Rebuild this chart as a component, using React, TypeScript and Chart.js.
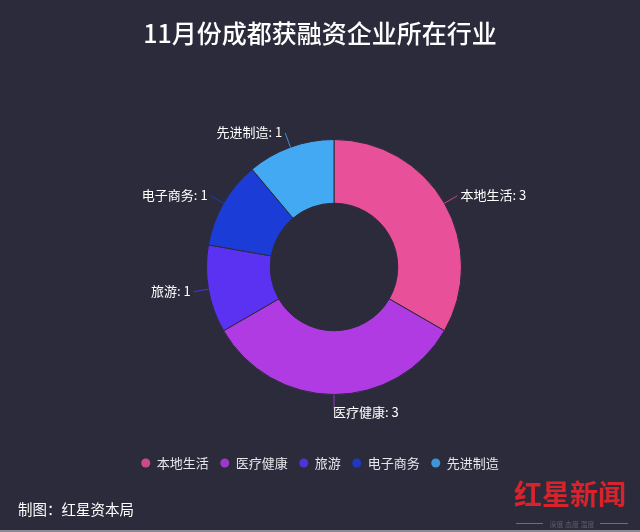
import React, { useEffect, useRef } from "react";
import { Chart, registerables } from "chart.js";

Chart.register(...registerables);

const categories = ["本地生活", "医疗健康", "旅游", "电子商务", "先进制造"];
const values = [3, 3, 1, 1, 1];
const colors = ["#e8509a", "#b13be2", "#5b32f2", "#1c3cd8", "#43a9f3"];
const titleText = "11月份成都获融资企业所在行业";
const footerText = "制图：红星资本局";

const BG = "#2c2b3b";
const FONT = '"Noto Sans CJK SC", "Noto Sans", sans-serif';

const overlayPlugin = {
  id: "overlay",
  beforeDraw(chart: any) {
    const ctx = chart.ctx;
    ctx.save();
    ctx.fillStyle = BG;
    ctx.fillRect(0, 0, chart.width, chart.height);
    ctx.restore();
  },
  afterDatasetsDraw(chart: any) {
    const ctx = chart.ctx;
    const meta = chart.getDatasetMeta(0);
    ctx.save();
    // slice labels with leader lines
    ctx.font = `13px ${FONT}`;
    ctx.textBaseline = "middle";
    meta.data.forEach((arc: any, i: number) => {
      const p = arc.getProps(["x", "y", "startAngle", "endAngle", "outerRadius"], true);
      const mid = (p.startAngle + p.endAngle) / 2;
      const c = Math.cos(mid);
      const s = Math.sin(mid);
      const r0 = p.outerRadius;
      const r1 = p.outerRadius + 15;
      const x0 = p.x + c * r0;
      const y0 = p.y + s * r0;
      const x1 = p.x + c * r1;
      const y1 = p.y + s * r1;
      ctx.strokeStyle = colors[i];
      ctx.globalAlpha = 0.8;
      ctx.lineWidth = 1;
      ctx.beginPath();
      ctx.moveTo(x0, y0);
      ctx.lineTo(x1, y1);
      ctx.stroke();
      ctx.globalAlpha = 1;
      ctx.fillStyle = "#ffffff";
      const label = `${categories[i]}: ${values[i]}`;
      if (Math.abs(c) < 0.05) {
        ctx.textAlign = "left";
        ctx.fillText(label, x1 - 1, y1 + 3);
      } else if (c >= 0) {
        ctx.textAlign = "left";
        ctx.fillText(label, x1 + 3, y1 - 1);
      } else {
        ctx.textAlign = "right";
        ctx.fillText(label, x1 - 3, y1 - 1);
      }
    });

    // title
    ctx.font = `500 25px ${FONT}`;
    ctx.fillStyle = "#ffffff";
    ctx.textAlign = "center";
    ctx.textBaseline = "middle";
    ctx.fillText(titleText, 320, 33);

    // legend
    ctx.font = `13px ${FONT}`;
    const widths = categories.map((t) => ctx.measureText(t).width);
    const rad = 4.5;
    const markerToText = 11;
    const itemGap = 11.5;
    let total = 0;
    widths.forEach((w, i) => {
      total += rad + markerToText + w + (i < widths.length - 1 ? itemGap : 0);
    });
    let x = 320 - total / 2;
    const ly = 463;
    categories.forEach((t, i) => {
      const mx = x + rad;
      ctx.fillStyle = colors[i];
      ctx.globalAlpha = 0.85;
      ctx.beginPath();
      ctx.arc(mx, ly, rad, 0, Math.PI * 2);
      ctx.fill();
      ctx.globalAlpha = 1;
      ctx.fillStyle = "#e6e6ea";
      ctx.textAlign = "left";
      ctx.fillText(t, mx + markerToText, ly);
      x = mx + markerToText + widths[i] + itemGap;
    });

    // footer
    ctx.font = `14.5px ${FONT}`;
    ctx.fillStyle = "#ffffff";
    ctx.textAlign = "left";
    ctx.fillText(footerText, 18, 509);

    // logo
    ctx.font = `bold 28px ${FONT}`;
    ctx.fillStyle = "#d9232b";
    ctx.textAlign = "left";
    ctx.fillText("红星新闻", 514, 494);
    ctx.strokeStyle = "#6e6d78";
    ctx.beginPath();
    ctx.moveTo(516, 523.5);
    ctx.lineTo(543, 523.5);
    ctx.moveTo(600, 523.5);
    ctx.lineTo(628, 523.5);
    ctx.stroke();
    ctx.font = `7px ${FONT}`;
    ctx.fillStyle = "#5e5d68";
    ctx.textAlign = "center";
    ctx.fillText("深度 态度 温度", 572, 524);

    // bottom strip
    ctx.fillStyle = "#8d8c96";
    ctx.fillRect(0, 530, chart.width, 2);
    ctx.restore();
  },
};

export default function App() {
  const ref = useRef<HTMLCanvasElement | null>(null);
  useEffect(() => {
    if (!ref.current) return;
    const chart = new Chart(ref.current, {
      type: "doughnut",
      data: {
        labels: categories,
        datasets: [
          {
            data: values,
            backgroundColor: colors,
            borderColor: "#2c2b3b",
            borderWidth: 1,
          },
        ],
      },
      options: {
        responsive: false,
        animation: false,
        cutout: "50%",
        layout: { padding: { left: 206, right: 178, top: 139, bottom: 137 } },
        plugins: {
          legend: { display: false },
          title: { display: false },
          tooltip: { enabled: false },
        },
      },
      plugins: [overlayPlugin],
    });
    return () => chart.destroy();
  }, []);
  return (
    <div style={{ position: "absolute", left: 0, top: 0, width: 640, height: 532, background: BG }}>
      <canvas ref={ref} width={640} height={532} style={{ display: "block", width: 640, height: 532 }} />
    </div>
  );
}
